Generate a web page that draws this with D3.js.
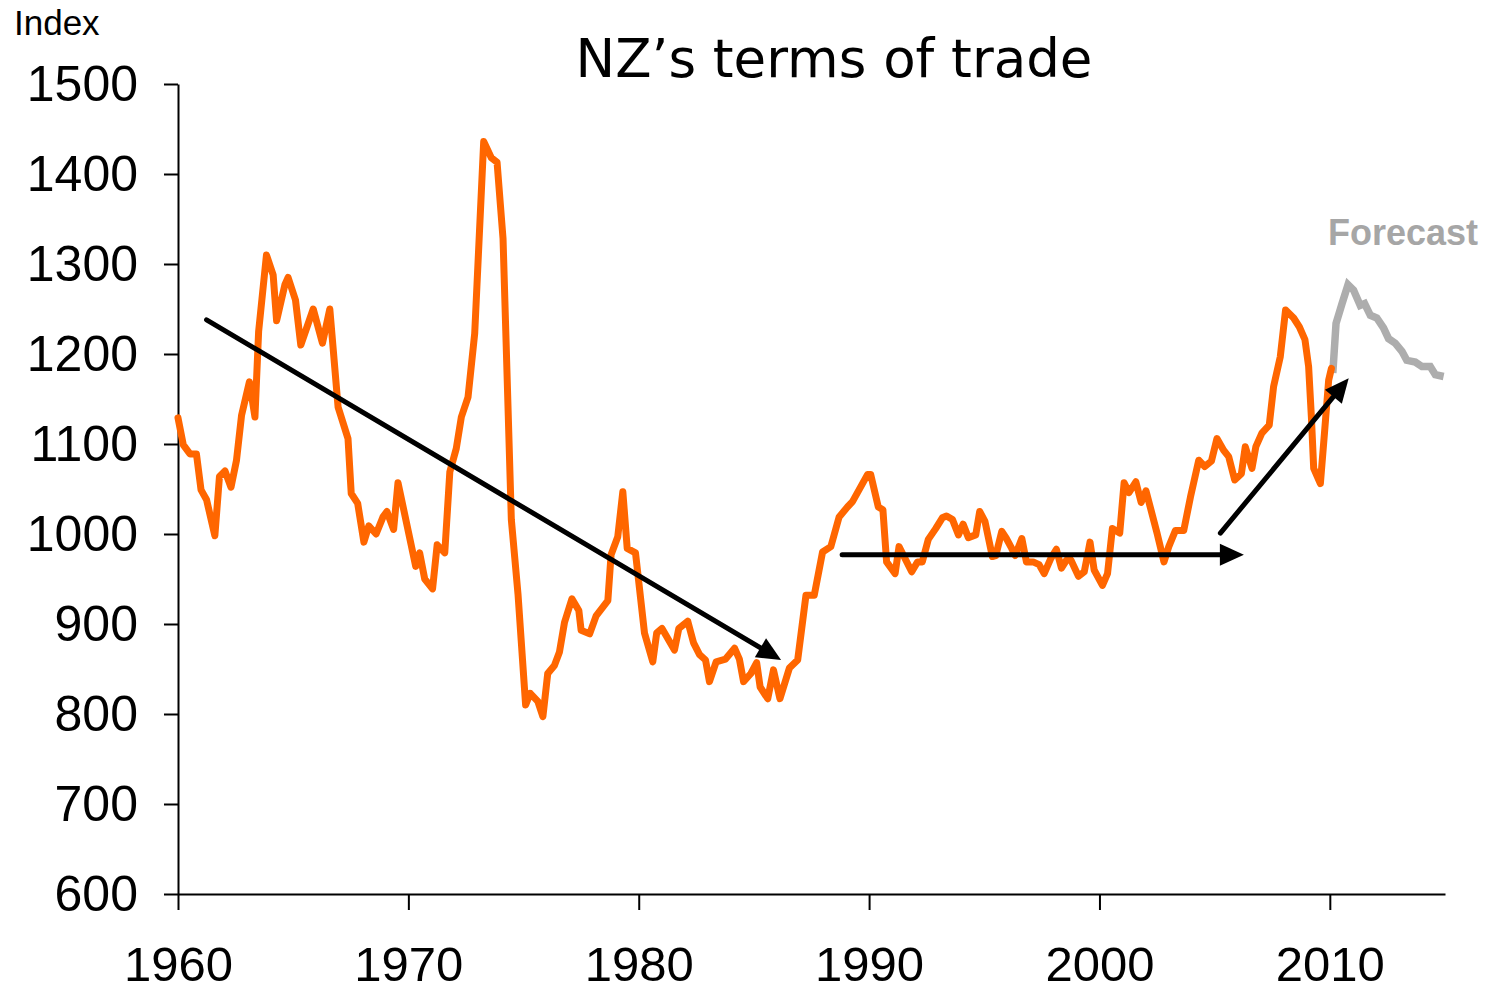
<!DOCTYPE html>
<html>
<head>
<meta charset="utf-8">
<script src="https://cdn.jsdelivr.net/npm/d3@7"></script>
<style>
  html, body { margin: 0; padding: 0; background: #fff; }
  svg { display: block; }
</style>
</head>
<body>
<svg id="chart" width="1486" height="992"></svg>
<script>
// ---- data ----
const actualYears = [
  1960.0,1960.23,1960.52,1960.8,1961.0,1961.24,1961.6,1961.8,1962.04,1962.3,1962.54,1962.76,1963.1,1963.34,1963.5,1963.84,
  1964.13,1964.28,1964.64,1964.78,1965.1,1965.33,1965.87,1966.27,1966.59,1966.95,1967.38,1967.52,1967.8,1968.07,1968.28,
  1968.6,1968.9,1969.07,1969.36,1969.55,1970.32,1970.49,1970.71,1971.05,1971.25,1971.58,1971.8,1972.08,1972.3,1972.59,
  1972.88,1973.27,1973.6,1973.85,1974.11,1974.47,1974.76,1975.09,1975.29,1975.62,1975.84,1976.05,1976.34,1976.56,1976.78,
  1977.1,1977.4,1977.5,1977.87,1978.15,1978.66,1978.8,1979.09,1979.31,1979.5,1979.86,1980.25,1980.61,1980.78,1981.01,
  1981.55,1981.74,1982.13,1982.38,1982.64,1982.9,1983.07,1983.36,1983.77,1984.16,1984.37,1984.55,1984.87,1985.12,1985.27,
  1985.6,1985.85,1986.13,1986.54,1986.9,1987.26,1987.62,1987.98,1988.34,1988.7,1989.06,1989.28,1989.93,1990.07,1990.4,
  1990.6,1990.76,1991.13,1991.3,1991.85,1992.1,1992.31,1992.57,1992.89,1993.18,1993.36,1993.62,1993.88,1994.08,1994.31,
  1994.63,1994.8,1995.03,1995.35,1995.5,1995.76,1995.96,1996.19,1996.34,1996.63,1996.83,1997.12,1997.38,1997.6,1997.89,
  1998.13,1998.35,1998.57,1998.76,1999.09,1999.34,1999.59,1999.77,2000.13,2000.35,2000.56,2000.88,2001.07,2001.28,2001.58,
  2001.81,2002.02,2002.5,2002.8,2003.01,2003.3,2003.66,2003.95,2004.31,2004.57,2004.86,2005.1,2005.39,2005.61,2005.87,
  2006.16,2006.33,2006.62,2006.79,2007.05,2007.37,2007.56,2007.85,2008.08,2008.43,2008.68,2008.92,2009.08,2009.2,2009.3,
  2009.59,2009.78,2009.95,2010.07
];
const actualValues = [
  1129,1099,1089,1089,1049,1038,998,1064,1070,1052,1082,1132,1169,1130,1225,1310,
  1288,1237,1277,1285,1260,1210,1250,1212,1250,1141,1106,1045,1034,991,1009,
  1000,1019,1025,1005,1057,964,979,950,939,988,979,1069,1095,1130,1152,
  1223,1436,1418,1413,1328,1016,933,810,823,814,797,845,854,869,902,
  928,915,893,889,909,926,977,997,1047,984,979,890,858,890,895,
  871,895,903,879,866,860,836,858,861,873,861,836,845,857,830,
  817,849,817,851,860,932,932,980,986,1019,1030,1036,1066,1066,1030,
  1027,969,956,986,958,969,969,994,1006,1018,1020,1016,999,1011,996,
  999,1025,1014,975,976,1003,995,984,976,995,969,969,966,956,973,
  983,962,971,971,953,958,991,960,943,956,1006,1001,1057,1046,1058,
  1035,1048,1001,969,986,1004,1004,1041,1082,1075,1081,1106,1093,1086,1060,
  1067,1097,1073,1097,1112,1121,1164,1197,1249,1240,1230,1216,1186,1130,1073,
  1056,1116,1171,1184
];
const forecastYears = [2010.13,2010.27,2010.53,2010.79,2011.03,2011.32,2011.51,2011.76,2012.04,2012.33,2012.55,2012.84,2013.13,2013.34,2013.71,2014.0,2014.36,2014.58,2014.94];
const forecastValues = [1179,1234,1256,1277,1271,1254,1256,1243,1240,1229,1217,1212,1203,1193,1191,1186,1186,1177,1175];

const yTicks = [600,700,800,900,1000,1100,1200,1300,1400,1500];
const xTicks = [1960,1970,1980,1990,2000,2010];

// trend arrows
const arrowStartYears = [1961.24, 1988.83, 2005.25];
const arrowStartValues = [1238, 977, 1001];
const arrowEndYears = [1986.18, 2006.27, 2010.82];
const arrowEndValues = [860, 977, 1173];

const titleText = "NZ\u2019s terms of trade";
const unitText = "Index";
const forecastLabel = "Forecast";

// ---- drawing ----
const svg = d3.select("#chart");
const x = d3.scaleLinear().domain([1960, 2015]).range([178, 1445]);
const y = d3.scaleLinear().domain([600, 1500]).range([894, 84]);

const axisFont = "'Liberation Sans', Arial, sans-serif";

// y axis
const gy = svg.append("g").attr("transform", `translate(${x(1960)},0)`)
  .call(d3.axisLeft(y).tickValues(yTicks).tickSize(14).tickSizeOuter(0).tickPadding(26).tickFormat(d3.format("d")));
gy.select(".domain").attr("stroke", "#000").attr("stroke-width", 2);
gy.selectAll(".tick line").attr("stroke", "#000").attr("stroke-width", 2);
gy.selectAll(".tick text").attr("font-family", axisFont).attr("font-size", 50).attr("fill", "#000");

// x axis
const gx = svg.append("g").attr("transform", `translate(0,${y(600)})`)
  .call(d3.axisBottom(x).tickValues(xTicks).tickSize(16).tickSizeOuter(0).tickPadding(36).tickFormat(d3.format("d")));
gx.select(".domain").attr("stroke", "#000").attr("stroke-width", 2);
gx.selectAll(".tick line").attr("stroke", "#000").attr("stroke-width", 2);
gx.selectAll(".tick text").attr("font-family", axisFont).attr("font-size", 49).attr("fill", "#000");

// lines
const line = d3.line().x(d => x(d[0])).y(d => y(d[1]));
const actual = actualYears.map((yr, i) => [yr, actualValues[i]]);
const forecast = forecastYears.map((yr, i) => [yr, forecastValues[i]]);

svg.append("path").datum(forecast)
  .attr("d", line).attr("fill", "none")
  .attr("stroke", "#adadad").attr("stroke-width", 7.5)
  .attr("stroke-linejoin", "miter");

svg.append("path").datum(actual)
  .attr("d", line).attr("fill", "none")
  .attr("stroke", "#ff6600").attr("stroke-width", 7)
  .attr("stroke-linejoin", "round").attr("stroke-linecap", "round");

// arrows
const headLen = 24, headHalf = 11;
arrowStartYears.forEach((sy, i) => {
  const x0 = x(sy), y0 = y(arrowStartValues[i]);
  const x1 = x(arrowEndYears[i]), y1 = y(arrowEndValues[i]);
  const dx = x1 - x0, dy = y1 - y0, len = Math.hypot(dx, dy);
  const ux = dx / len, uy = dy / len;
  const bx = x1 - ux * headLen, by = y1 - uy * headLen;
  svg.append("line")
    .attr("x1", x0).attr("y1", y0)
    .attr("x2", x1 - ux * (headLen - 4)).attr("y2", y1 - uy * (headLen - 4))
    .attr("stroke", "#000").attr("stroke-width", 5).attr("stroke-linecap", "round");
  svg.append("path")
    .attr("d", `M${x1},${y1}L${bx - uy * headHalf},${by + ux * headHalf}L${bx + uy * headHalf},${by - ux * headHalf}Z`)
    .attr("fill", "#000");
});

// texts
svg.append("text").attr("x", 834).attr("y", 77)
  .attr("text-anchor", "middle")
  .attr("font-family", "'DejaVu Sans', Verdana, sans-serif")
  .attr("font-size", 53).attr("fill", "#000")
  .text(titleText);

svg.append("text").attr("x", 14).attr("y", 35)
  .attr("font-family", axisFont).attr("font-size", 35).attr("fill", "#000")
  .text(unitText);

svg.append("text").attr("x", 1328).attr("y", 245)
  .attr("font-family", axisFont).attr("font-size", 36).attr("font-weight", "bold")
  .attr("fill", "#a6a6a6")
  .text(forecastLabel);
</script>
</body>
</html>
